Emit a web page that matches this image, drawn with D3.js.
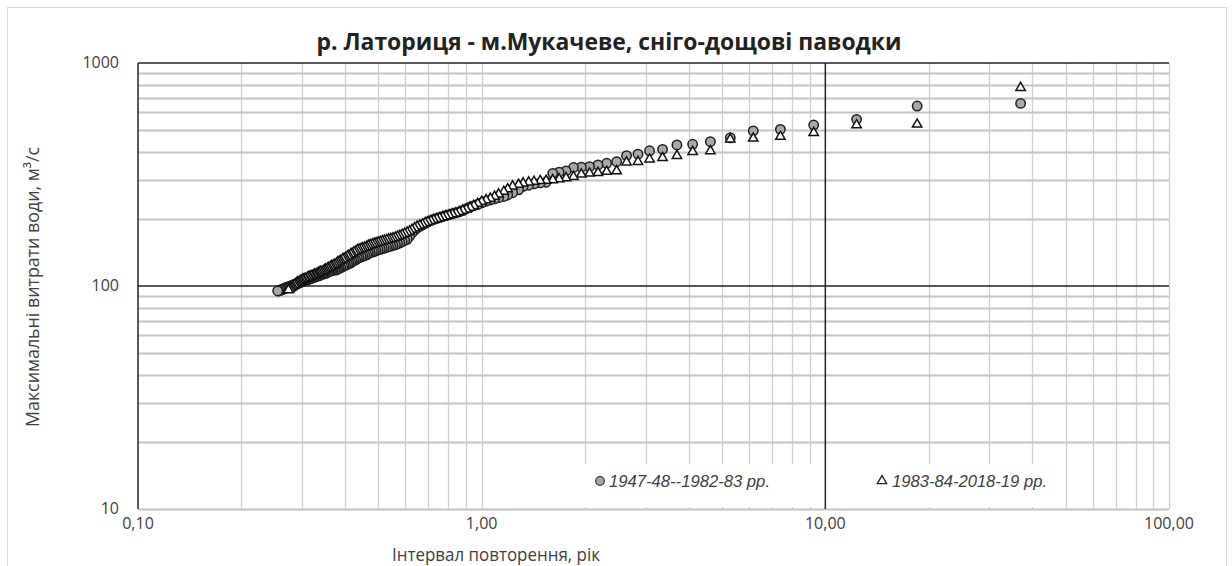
<!DOCTYPE html>
<html>
<head>
<meta charset="utf-8">
<style>
body { margin: 0; background: #fff; }
svg { display: block; }
.tick-label { font-family: "Open Sans", sans-serif; font-size: 16px; fill: #404040; }
.axis-title { font-family: "Open Sans", sans-serif; fill: #404040; }
.legend text { font-family: "Liberation Sans", sans-serif; font-style: italic; font-size: 16px; fill: #404040; }
</style>
<script src="https://cdn.jsdelivr.net/npm/d3@7"></script>
</head>
<body>
<svg width="1232" height="566"></svg>
<script>

// return period, years (shared by both series, by rank)
var periods = [
  37.00, 18.50, 12.33, 9.25, 7.40, 6.17, 5.29, 4.63, 4.11, 3.70,
  3.36, 3.08, 2.85, 2.64, 2.47, 2.31, 2.18, 2.06, 1.95, 1.85,
  1.76, 1.68, 1.61, 1.54, 1.48, 1.42, 1.37, 1.32, 1.28, 1.23,
  1.19, 1.16, 1.12, 1.09, 1.06, 1.03, 1.00, 0.974, 0.949, 0.925,
  0.902, 0.881, 0.860, 0.841, 0.822, 0.804, 0.787, 0.771, 0.755, 0.740,
  0.725, 0.712, 0.698, 0.685, 0.673, 0.661, 0.649, 0.638, 0.627, 0.617,
  0.607, 0.597, 0.587, 0.578, 0.569, 0.561, 0.552, 0.544, 0.536, 0.529,
  0.521, 0.514, 0.507, 0.500, 0.493, 0.487, 0.481, 0.474, 0.468, 0.463,
  0.457, 0.451, 0.446, 0.440, 0.435, 0.430, 0.425, 0.420, 0.416, 0.411,
  0.407, 0.402, 0.398, 0.394, 0.389, 0.385, 0.381, 0.378, 0.374, 0.370,
  0.366, 0.363, 0.359, 0.356, 0.352, 0.349, 0.346, 0.343, 0.339, 0.336,
  0.333, 0.330, 0.327, 0.325, 0.322, 0.319, 0.316, 0.314, 0.311, 0.308,
  0.306, 0.303, 0.301, 0.298, 0.296, 0.294, 0.291, 0.289, 0.287, 0.285,
  0.282, 0.280, 0.278, 0.276, 0.274, 0.272, 0.270, 0.268, 0.266, 0.264,
  0.262, 0.261, 0.259, 0.257, 0.255
];

// 1947-48 -- 1982-83, m3/s, ranked
var flowsEarly = [
  659, 641, 559, 527, 504, 496, 462, 444, 432, 429,
  410, 404, 390, 384, 361, 355, 349, 343, 341, 340,
  328, 324, 320, 292, 290, 287, 283, 280, 270, 262,
  256, 252, 249, 246, 243, 240, 236, 232, 229, 226,
  222, 218, 215, 213, 211, 209, 207, 205, 203, 201,
  199, 197, 194, 191, 188, 185, 182, 178, 173, 167,
  162, 160, 158, 156, 155, 153, 152, 151, 150, 149,
  148, 147, 146, 145, 144, 143, 142, 141, 140, 138,
  137, 136, 135, 134, 133, 131, 130, 129, 127, 126,
  125, 124, 123, 122, 121, 120, 119, 118, 118, 118,
  117, 117, 116, 115, 114, 114, 113, 113, 112, 111,
  111, 110, 110, 109, 109, 108, 108, 107, 107, 106,
  106, 105, 105, 104, 104, 103, 103, 102, 102, 101,
  101, 100, 100, 99, 99, 99, 98, 98, 97, 97,
  96, 96, 96, 95, 95
];

// 1983-84 -- 2018-19, m3/s, ranked
var flowsLate = [
  775, 531, 527, 487, 468, 459, 455, 403, 400, 384,
  376, 370, 361, 359, 328, 326, 322, 320, 317, 309,
  305, 302, 299, 297, 296, 294, 292, 289, 285, 280,
  272, 265, 258, 252, 247, 243, 239, 234, 229, 225,
  221, 218, 215, 212, 210, 208, 206, 204, 202, 200,
  198, 196, 194, 192, 189, 187, 185, 182, 179, 176,
  174, 172, 170, 168, 167, 165, 164, 163, 162, 161,
  160, 159, 158, 157, 156, 155, 154, 153, 152, 150,
  149, 148, 147, 146, 145, 143, 142, 140, 139, 137,
  136, 134, 133, 132, 130, 129, 128, 126, 125, 124,
  123, 122, 121, 120, 119, 118, 117, 116, 116, 115,
  114, 113, 113, 112, 111, 111, 110, 110, 109, 108,
  108, 107, 107, 106, 105, 104, 104, 103, 102, 101,
  100, 99, 98, 97, 96
];

var xTicks = [0.1, 1, 10, 100],
    xTickLabels = ["0,10", "1,00", "10,00", "100,00"],
    yTicks = [10, 100, 1000],
    yTickLabels = ["10", "100", "1000"];

var legendLabels = ["1947-48--1982-83 рр.", "1983-84-2018-19 рр."];

var svg = d3.select("svg"),
    plotLeft = 138, plotRight = 1169, plotTop = 63, plotBottom = 509;

var x = d3.scaleLog().domain([0.1, 100]).range([plotLeft, plotRight]);
var y = d3.scaleLog().domain([10, 1000]).range([plotBottom, plotTop]);

// outer frame
svg.append("rect")
    .attr("x", 7.5).attr("y", 7.5)
    .attr("width", 1219).attr("height", 570)
    .attr("fill", "#fff")
    .attr("stroke", "#d9d9d9");

var grid = svg.append("g");

// minor vertical lines
var xMinor = [];
[0.1, 1, 10].forEach(function(d) {
  for (var k = 2; k <= 9; k++) xMinor.push(d * k);
});
grid.selectAll(".vx")
  .data(xMinor.concat([1, 100]))
  .enter().append("line")
    .attr("x1", function(d) { return Math.round(x(d)) + 0.5; })
    .attr("x2", function(d) { return Math.round(x(d)) + 0.5; })
    .attr("y1", plotTop).attr("y2", plotBottom)
    .attr("stroke", "#d0d0d0")
    .attr("stroke-width", 1.3);

// minor horizontal lines
var yMinor = [];
[10, 100].forEach(function(d) {
  for (var k = 2; k <= 9; k++) yMinor.push(d * k);
});
grid.selectAll(".hy")
  .data(yMinor.concat([10]))
  .enter().append("line")
    .attr("x1", plotLeft).attr("x2", plotRight)
    .attr("y1", function(d) { return Math.round(y(d)) + 0.5; })
    .attr("y2", function(d) { return Math.round(y(d)) + 0.5; })
    .attr("stroke", "#c4c4c4")
    .attr("stroke-width", 2);

// legend background
svg.append("rect")
    .attr("x", 578).attr("y", 464)
    .attr("width", 482).attr("height", 43)
    .attr("fill", "#fff");

// dark lines
svg.append("line")
    .attr("x1", plotLeft).attr("x2", plotLeft).attr("y1", plotTop).attr("y2", plotBottom)
    .attr("stroke", "#222").attr("stroke-width", 1.5);
svg.append("line")
    .attr("x1", x(10)).attr("x2", x(10)).attr("y1", plotTop).attr("y2", plotBottom)
    .attr("stroke", "#222").attr("stroke-width", 1.5);
[100, 1000].forEach(function(v) {
  svg.append("line")
      .attr("x1", plotLeft).attr("x2", plotRight).attr("y1", y(v)).attr("y2", y(v))
      .attr("stroke", "#222").attr("stroke-width", 1.5);
});

// tick labels
svg.selectAll(".xl")
  .data(xTicks)
  .enter().append("text")
    .attr("class", "tick-label")
    .attr("x", function(d) { return x(d); })
    .attr("y", 529)
    .attr("text-anchor", "middle")
    .text(function(d, i) { return xTickLabels[i]; });

svg.selectAll(".yl")
  .data(yTicks)
  .enter().append("text")
    .attr("class", "tick-label")
    .attr("x", 119)
    .attr("y", function(d) { return y(d) + 5; })
    .attr("text-anchor", "end")
    .text(function(d, i) { return yTickLabels[i]; });

// titles
svg.append("text")
    .attr("x", 609).attr("y", 50)
    .attr("text-anchor", "middle")
    .style("font-family", "'Open Sans', sans-serif")
    .style("font-weight", "bold")
    .style("font-size", "23px")
    .style("fill", "#222")
    .attr("textLength", 585)
    .attr("lengthAdjust", "spacingAndGlyphs")
    .text("р. Латориця - м.Мукачеве, сніго-дощові паводки");

svg.append("text")
    .attr("class", "axis-title")
    .attr("x", 496).attr("y", 561)
    .attr("text-anchor", "middle")
    .style("font-size", "19px")
    .attr("textLength", 208)
    .attr("lengthAdjust", "spacingAndGlyphs")
    .text("Інтервал повторення, рік");

svg.append("text")
    .attr("class", "axis-title")
    .attr("transform", "translate(39,287) rotate(-90)")
    .attr("text-anchor", "middle")
    .style("font-size", "18.5px")
    .attr("textLength", 280)
    .attr("lengthAdjust", "spacingAndGlyphs")
    .text("Максимальні витрати води, м³/с");

// points
var early = periods.map(function(t, i) { return {t: t, q: flowsEarly[i]}; });
var late = flowsLate.map(function(q, i) { return {t: periods[i], q: q}; });

svg.append("g")
  .selectAll("circle")
  .data(early)
  .enter().append("circle")
    .attr("cx", function(d) { return x(d.t); })
    .attr("cy", function(d) { return y(d.q); })
    .attr("r", 4.7)
    .attr("fill", "#a8a8a8")
    .attr("stroke", "#1e1e1e")
    .attr("stroke-width", 1.5);

var tri = d3.symbol().type(d3.symbolTriangle).size(38);

svg.append("g")
  .selectAll("path")
  .data(late)
  .enter().append("path")
    .attr("transform", function(d) { return "translate(" + x(d.t) + "," + y(d.q) + ")"; })
    .attr("d", tri)
    .attr("fill", "#fff")
    .attr("stroke", "#111")
    .attr("stroke-width", 1.5);

// legend
var legend = svg.append("g").attr("class", "legend");

legend.append("circle")
    .attr("cx", 600).attr("cy", 481).attr("r", 4.3)
    .attr("fill", "#a8a8a8").attr("stroke", "#333").attr("stroke-width", 1.2);
legend.append("text")
    .attr("x", 609).attr("y", 487)
    .attr("textLength", 161).attr("lengthAdjust", "spacingAndGlyphs")
    .text(legendLabels[0]);

legend.append("path")
    .attr("transform", "translate(882,481)")
    .attr("d", tri)
    .attr("fill", "#fff").attr("stroke", "#222").attr("stroke-width", 1.3);
legend.append("text")
    .attr("x", 892).attr("y", 487)
    .attr("textLength", 155).attr("lengthAdjust", "spacingAndGlyphs")
    .text(legendLabels[1]);

</script>
</body>
</html>
